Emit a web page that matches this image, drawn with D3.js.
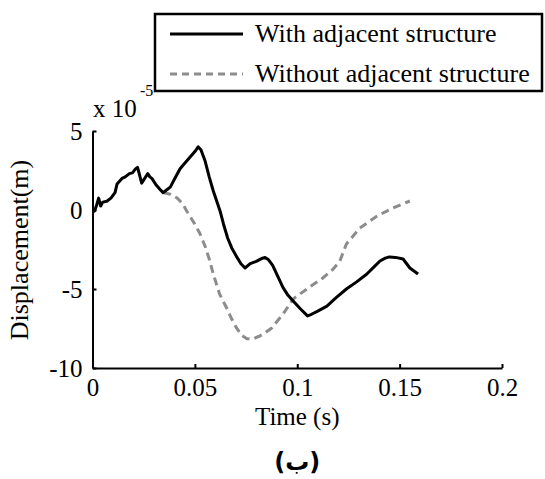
<!DOCTYPE html>
<html>
<head>
<meta charset="utf-8">
<script src="https://cdn.jsdelivr.net/npm/d3@7"></script>
<style>
  html, body { margin: 0; padding: 0; background: #fff; }
  svg { display: block; }
  text { font-family: "Liberation Serif", "Times New Roman", serif; fill: #000; }
</style>
</head>
<body>
<svg id="chart" width="545" height="479"></svg>
<script>
// Displacement histories (units of 1e-5 m) against time (s)
const withTime = [0, 0.001, 0.002, 0.003, 0.004, 0.005, 0.007, 0.009, 0.011, 0.012, 0.0144, 0.016, 0.018, 0.0195, 0.021, 0.022, 0.023, 0.024, 0.0255, 0.027, 0.028, 0.029, 0.031, 0.033, 0.0345, 0.036, 0.038, 0.040, 0.0427, 0.044, 0.046, 0.048, 0.050, 0.0516, 0.053, 0.055, 0.057, 0.059, 0.0623, 0.064, 0.066, 0.068, 0.0706, 0.0725, 0.0745, 0.077, 0.080, 0.083, 0.0843, 0.086, 0.088, 0.0905, 0.093, 0.0955, 0.098, 0.1015, 0.105, 0.107, 0.110, 0.1145, 0.119, 0.124, 0.129, 0.134, 0.1375, 0.1404, 0.143, 0.145, 0.148, 0.1517, 0.155, 0.159];
const withDisp = [-0.1, -0.06, 0.3, 0.75, 0.25, 0.5, 0.55, 0.75, 1.1, 1.65, 2.0, 2.1, 2.3, 2.35, 2.6, 2.7, 2.2, 1.7, 2.0, 2.3, 2.1, 2.0, 1.6, 1.3, 1.1, 1.25, 1.45, 1.95, 2.6, 2.8, 3.1, 3.4, 3.7, 4.0, 3.8, 3.1, 2.1, 1.2, -0.06, -0.9, -1.77, -2.4, -3.0, -3.4, -3.67, -3.4, -3.25, -3.05, -3.0, -3.15, -3.5, -4.2, -4.9, -5.4, -5.76, -6.25, -6.7, -6.6, -6.4, -6.08, -5.55, -5.0, -4.55, -4.05, -3.6, -3.23, -3.05, -2.97, -3.0, -3.1, -3.67, -4.05];

const withoutTime = [0.0345, 0.038, 0.0413, 0.044, 0.046, 0.050, 0.0525, 0.055, 0.057, 0.059, 0.062, 0.0655, 0.068, 0.0705, 0.073, 0.0754, 0.0785, 0.0818, 0.0845, 0.0875, 0.093, 0.098, 0.1047, 0.1125, 0.1175, 0.1208, 0.124, 0.1306, 0.139, 0.1468, 0.155];
const withoutDisp = [1.1, 1.0, 0.76, 0.4, -0.06, -0.9, -1.5, -2.3, -3.1, -4.05, -5.3, -6.2, -6.9, -7.5, -7.95, -8.15, -8.15, -7.97, -7.75, -7.47, -6.6, -5.63, -5.0, -4.3, -3.75, -3.23, -2.15, -1.14, -0.38, 0.13, 0.57];

const xTicks = [0, 0.05, 0.1, 0.15, 0.2];
const xTickLabels = ["0", "0.05", "0.1", "0.15", "0.2"];
const yTicks = [-10, -5, 0, 5];
const yTickLabels = ["-10", "-5", "0", "5"];
const seriesNames = ["With adjacent structure", "Without adjacent structure"];

const svg = d3.select("#chart");
const FS = 25;

const x = d3.scaleLinear().domain([0, 0.2]).range([92.5, 502]);
const y = d3.scaleLinear().domain([-10, 5]).range([368, 131]);

// Axes: ticks point into the plot, no outer ticks
const xAxis = d3.axisBottom(x)
  .tickValues(xTicks)
  .tickFormat((d, i) => xTickLabels[i])
  .tickSizeInner(-4).tickSizeOuter(0).tickPadding(10);
const yAxis = d3.axisLeft(y)
  .tickValues(yTicks)
  .tickFormat((d, i) => yTickLabels[i])
  .tickSizeInner(-4).tickSizeOuter(0).tickPadding(10);

const gx = svg.append("g").attr("transform", `translate(0,${y(-10)})`).call(xAxis);
const gy = svg.append("g").attr("transform", `translate(${x(0)},0)`).call(yAxis);
[gx, gy].forEach(g => {
  g.select(".domain").attr("stroke", "#000").attr("stroke-width", 2);
  g.selectAll(".tick line").attr("stroke", "#000").attr("stroke-width", 2);
  g.selectAll(".tick text")
    .attr("fill", "#000")
    .style("font-family", '"Liberation Serif", "Times New Roman", serif')
    .style("font-size", FS + "px");
});

// Series
const line = d3.line().x(d => x(d[0])).y(d => y(d[1]));
const withPts = withTime.map((t, i) => [t, withDisp[i]]);
const withoutPts = withoutTime.map((t, i) => [t, withoutDisp[i]]);

svg.append("path").datum(withoutPts)
  .attr("d", line).attr("fill", "none")
  .attr("stroke", "#8c8c8c").attr("stroke-width", 3)
  .attr("stroke-dasharray", "8,5");
svg.append("path").datum(withPts)
  .attr("d", line).attr("fill", "none")
  .attr("stroke", "#000").attr("stroke-width", 3)
  .attr("stroke-linejoin", "round");

// Exponent label
svg.append("text").attr("x", 93).attr("y", 117)
  .style("font-size", FS + "px").text("x 10");
svg.append("text").attr("x", 140).attr("y", 96)
  .style("font-size", "16px").text("-5");

// Axis titles
svg.append("text").attr("x", x(0.1)).attr("y", 425)
  .attr("text-anchor", "middle").style("font-size", FS + "px").text("Time (s)");
svg.append("text")
  .attr("transform", "translate(28,250) rotate(-90)")
  .attr("text-anchor", "middle").style("font-size", "26px").text("Displacement(m)");

// Panel caption
svg.append("text").attr("x", x(0.1)).attr("y", 470)
  .attr("text-anchor", "middle")
  .style("font-family", '"DejaVu Sans", sans-serif')
  .style("font-weight", "bold")
  .style("font-size", "24px").text("(ب)");

// Legend
const lg = svg.append("g");
lg.append("rect").attr("x", 155).attr("y", 14).attr("width", 387).attr("height", 77)
  .attr("fill", "#fff").attr("stroke", "#000").attr("stroke-width", 2.5);
const legendRows = [
  { name: seriesNames[0], stroke: "#000", dash: null, yy: 34 },
  { name: seriesNames[1], stroke: "#8c8c8c", dash: "7,5", yy: 74 }
];
legendRows.forEach(r => {
  lg.append("line").attr("x1", 170).attr("x2", 243).attr("y1", r.yy).attr("y2", r.yy)
    .attr("stroke", r.stroke).attr("stroke-width", 3)
    .attr("stroke-dasharray", r.dash);
  lg.append("text").attr("x", 255).attr("y", r.yy + 8)
    .style("font-size", "26px").text(r.name);
});
</script>
</body>
</html>
